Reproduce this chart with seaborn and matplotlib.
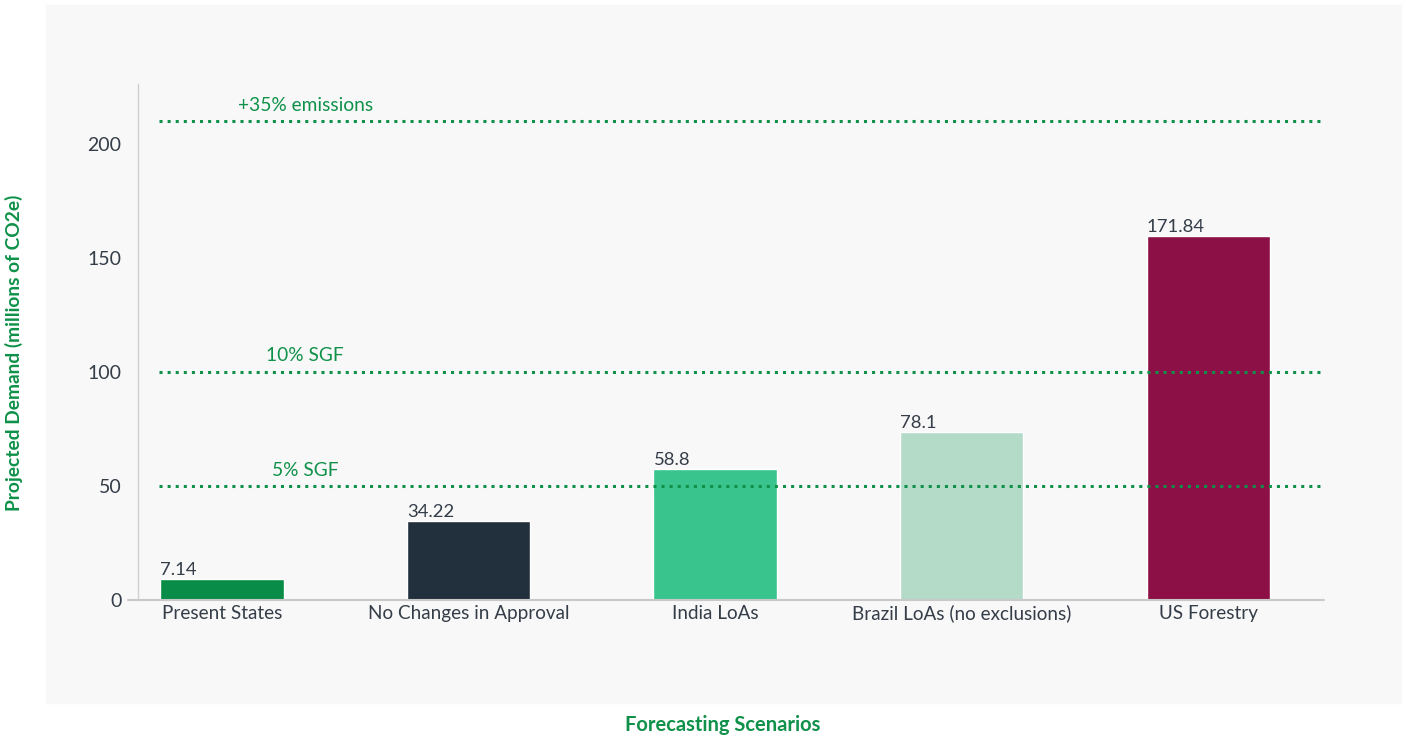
import matplotlib
matplotlib.use("Agg")
import matplotlib.pyplot as plt
from matplotlib.patches import Rectangle
import seaborn as sns

# data
scenarios = ["Present States", "No Changes in Approval", "India LoAs",
             "Brazil LoAs (no exclusions)", "US Forestry"]
bar_heights = [9.2, 34.6, 57.5, 73.7, 159.6]
bar_labels = ["7.14", "34.22", "58.8", "78.1", "171.84"]
bar_colors = ["#098c48", "#222f3c", "#38c48c", "#b3dbc8", "#8c1046"]

ref_values = [210, 100, 50]
ref_labels = ["+35% emissions", "10% SGF", "5% SGF"]

y_ticks = [0, 50, 100, 150, 200]

green = "#0f9149"
dark = "#343d48"
panel = "#f8f8f8"

sns.set_theme(style="white")
plt.rcParams["font.family"] = ["Lato", "DejaVu Sans"]

fig = plt.figure(figsize=(14.05, 7.37), dpi=100, facecolor="white")
fig.patches.append(Rectangle((46 / 1405, 1 - 703 / 737), (1401 - 46) / 1405, (703 - 5) / 737,
                             transform=fig.transFigure, color=panel, zorder=-10))

ax = fig.add_axes([138 / 1405, 1 - 600 / 737, (1324 - 138) / 1405, (600 - 84) / 737])
ax.set_facecolor(panel)

sns.barplot(x=scenarios, y=bar_heights, hue=scenarios, palette=bar_colors,
            width=0.5, saturation=1, legend=False, ax=ax, zorder=2)

ax.set_xlim(-0.341, 4.47)
ax.set_ylim(0, 226.3)

# value labels, left-aligned on each bar
for i, (h, lab) in enumerate(zip(bar_heights, bar_labels)):
    ax.text(i - 0.25, h + 1.6, lab, ha="left", va="baseline",
            fontsize=13.3, color=dark, zorder=4)

# dotted reference lines drawn over the bars
for v, lab in zip(ref_values, ref_labels):
    ax.hlines(v, -0.256, 4.475, colors=green, linewidth=2.2,
              linestyles=(0, (1, 1.65)), zorder=3, clip_on=False)
    ax.text(0.337, v + 4.6, lab, ha="center", va="baseline",
            fontsize=13.8, color=green, zorder=4)

# baseline
ax.plot([-0.381, 4.47], [0, 0], color="#c9c9c9", linewidth=1.5,
        clip_on=False, zorder=3)

for s in ["top", "right", "bottom"]:
    ax.spines[s].set_visible(False)
ax.spines["left"].set_color("#d0d0d0")
ax.spines["left"].set_linewidth(1)

ax.set_yticks(y_ticks)
ax.tick_params(axis="y", length=0, pad=12, labelsize=14, labelcolor=dark)
ax.tick_params(axis="x", length=0, pad=14, labelsize=13.6, labelcolor=dark)
for lbl in ax.get_xticklabels():
    lbl.set_verticalalignment("baseline")
ax.set_xlabel("")
ax.set_ylabel("")

fig.text(14 / 1405, 1 - 353 / 737, "Projected Demand (millions of CO2e)",
         rotation=90, ha="center", va="center", fontsize=13.8,
         fontweight="bold", color=green)
fig.text(723 / 1405, 1 - 725 / 737, "Forecasting Scenarios",
         ha="center", va="center", fontsize=14.5,
         fontweight="bold", color=green)

fig.savefig("out.png", dpi=100, facecolor="white")
